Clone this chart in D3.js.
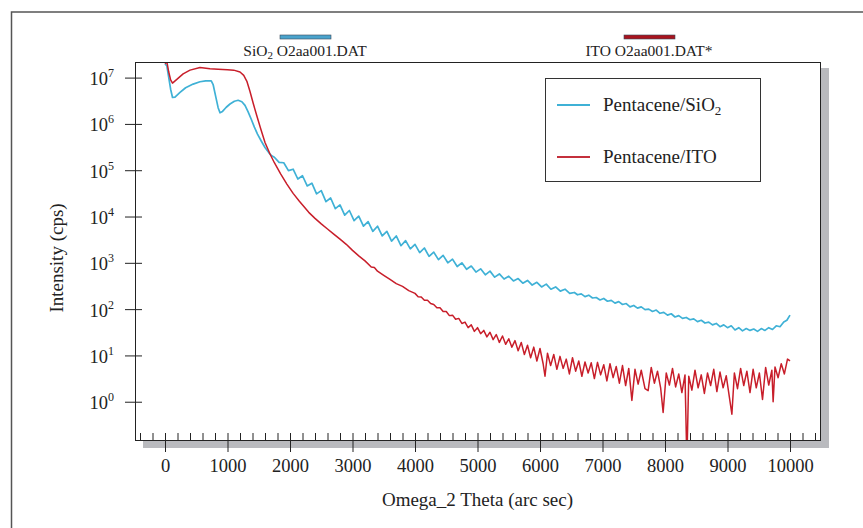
<!DOCTYPE html>
<html><head><meta charset="utf-8">
<script src="https://cdn.jsdelivr.net/npm/d3@7"></script>
<style>
html,body{margin:0;padding:0;background:#fff;}
svg text{font-family:"Liberation Serif","Times New Roman",serif;fill:#222;}
</style></head>
<body><svg id="chart" width="863" height="528"></svg>
<script>
// ---- data ----
const xTickValues = [0,1000,2000,3000,4000,5000,6000,7000,8000,9000,10000];
const yTickExponents = [0,1,2,3,4,5,6,7];
const seriesNames = ["Pentacene/SiO", "Pentacene/ITO"];
const fileLabels = ["O2aa001.DAT", "O2aa001.DAT*"];

const sio2Data = [
[0,2.0e7],[30,1.78e7],[60,1.0e7],[90,5.62e6],[120,3.72e6],[160,3.80e6],[240,4.79e6],[330,6.03e6],
[450,7.24e6],[560,8.13e6],[650,8.51e6],[740,8.51e6],[770,7.08e6],[810,3.98e6],[850,2.24e6],[880,1.74e6],
[920,1.86e6],[980,2.29e6],[1040,2.69e6],[1110,3.09e6],[1170,3.24e6],[1230,3.02e6],[1280,2.51e6],
[1330,1.82e6],[1380,1.26e6],[1430,8.51e5],[1480,6.03e5],[1540,4.27e5],[1600,3.09e5],[1660,2.40e5],
[1700,2.09e5],[1750,1.91e5],[1825,1.48e5],[1900,1.45e5],[1975,9.77e4],[2050,1.05e5],[2125,6.46e4],
[2200,7.59e4],[2275,4.57e4],[2350,5.25e4],[2425,3.09e4],[2500,3.63e4],[2575,2.09e4],[2650,2.51e4],
[2725,1.48e4],[2800,1.78e4],[2875,1.07e4],[2950,1.35e4],[3025,8.13e3],[3100,1.02e4],[3175,6.17e3],
[3250,7.76e3],[3325,4.79e3],[3400,6.17e3],[3475,3.80e3],[3550,4.79e3],[3625,2.95e3],[3700,3.80e3],
[3775,2.34e3],[3850,3.02e3],[3925,2.00e3],[4000,2.51e3],[4075,1.66e3],[4150,2.09e3],[4225,1.38e3],
[4300,1.70e3],[4375,1.17e3],[4450,1.45e3],[4525,1.00e3],[4600,1.20e3],[4675,832],[4750,1000],
[4825,724],[4900,851],[4975,631],[5050,741],[5125,550],[5200,661],[5275,490],[5350,575],[5425,447],
[5500,513],[5575,407],[5650,457],[5725,363],[5800,417],[5875,331],[5950,380],[6025,302],[6100,347],
[6175,269],[6250,302],[6325,245],[6400,269],[6475,219],[6550,229],[6600,204],[6660,214],[6720,186],
[6780,200],[6840,174],[6900,178],[6960,158],[7020,170],[7080,148],[7140,155],[7200,135],[7260,145],
[7320,126],[7380,132],[7440,112],[7500,120],[7560,105],[7620,112],[7680,97.7],[7740,100],[7800,89.1],
[7860,95.5],[7920,81.3],[7980,85.1],[8040,74.1],[8100,79.4],[8160,67.6],[8220,72.4],[8280,63.1],
[8340,66.1],[8400,58.9],[8460,61.7],[8520,53.7],[8580,57.5],[8640,50.1],[8700,52.5],[8760,45.7],
[8820,49.0],[8880,41.7],[8940,45.7],[9000,39.8],[9060,43.7],[9120,35.5],[9180,39.8],[9240,33.9],
[9300,38.0],[9360,34.7],[9420,37.2],[9480,33.1],[9540,38.0],[9600,34.7],[9660,39.8],[9720,36.3],
[9780,43.7],[9840,41.7],[9900,52.5],[9950,57.5],[10000,74.1]
];

const itoData = [
[0,2.0e7],[30,2.19e7],[60,1.32e7],[90,8.91e6],[120,7.59e6],[180,8.91e6],[290,1.20e7],[400,1.45e7],
[560,1.66e7],[720,1.55e7],[850,1.51e7],[1000,1.48e7],[1100,1.45e7],[1200,1.32e7],[1260,1.12e7],
[1310,8.32e6],[1360,5.01e6],[1410,2.82e6],[1470,1.48e6],[1530,7.94e5],[1600,3.98e5],[1680,2.24e5],
[1750,1.45e5],[1850,8.32e4],[1950,5.01e4],[2050,3.16e4],[2150,2.14e4],[2300,1.23e4],[2400,9.12e3],
[2500,6.92e3],[2600,5.37e3],[2700,4.17e3],[2800,3.24e3],[2900,2.51e3],[3000,1.86e3],[3100,1.41e3],
[3200,1.10e3],[3300,813],[3350,794],[3400,661],[3500,537],[3600,437],[3700,355],[3800,309],[3900,251],
[4000,219],[4050,186],[4100,182],[4150,155],[4200,155],[4250,132],[4300,126],[4350,107],[4400,107],
[4450,89.1],[4500,89.1],[4550,72.4],[4600,74.1],[4650,60.3],[4700,63.1],[4750,49.0],[4800,52.5],
[4850,39.8],[4900,45.7],[4950,33.1],[5000,39.8],[5050,29.5],[5100,34.7],[5150,25.1],[5200,31.6],
[5250,21.9],[5300,28.2],[5350,19.1],[5400,26.3],[5450,17.4],[5500,22.9],[5550,15.1],[5600,20.9],
[5650,12.6],[5700,19.1],[5750,10.5],[5800,16.6],[5850,8.91],[5900,15.1],[5950,7.59],[6000,14.1],
[6050,6.61],[6080,3.55],[6120,11.2],[6170,6.03],[6220,10.5],[6270,5.01],[6320,9.55],[6370,5.25],
[6420,8.32],[6470,3.98],[6520,8.91],[6570,4.57],[6620,7.59],[6670,3.55],[6720,7.24],[6770,4.17],
[6820,6.92],[6870,3.16],[6920,7.08],[6970,3.80],[7020,6.31],[7070,2.82],[7120,6.61],[7170,3.31],
[7220,5.75],[7270,2.51],[7320,6.03],[7370,2.24],[7420,5.25],[7470,1.07],[7520,5.01],[7570,2.40],
[7620,4.79],[7680,1.91],[7730,1.74],[7780,5.50],[7830,2.51],[7880,4.57],[7930,2.00],[7970,0.589],
[8020,4.17],[8070,2.29],[8120,5.25],[8170,2.09],[8220,3.98],[8270,1.58],[8320,3.80],[8350,0.05],
[8380,3.55],[8430,1.78],[8480,4.79],[8530,2.00],[8580,3.80],[8630,1.51],[8680,4.17],[8730,2.24],
[8780,5.01],[8830,1.66],[8880,4.37],[8930,2.00],[8980,3.63],[9030,1.26],[9070,0.537],[9110,4.17],
[9160,1.91],[9210,5.25],[9260,2.24],[9310,4.57],[9360,1.58],[9410,5.01],[9460,2.00],[9510,4.17],
[9560,1.12],[9610,5.50],[9660,2.29],[9710,4.79],[9730,1.0],[9760,5.62],[9810,3.31],[9860,6.61],
[9910,3.98],[9960,8.32],[10000,7.59]
];

// ---- layout ----
const svg = d3.select("#chart");
const W = 863, H = 528;
const plot = {left:135, top:62, right:821, bottom:441};
const cyan = "#3fb1d6", red = "#c81e2a";

const x = d3.scaleLinear().domain([-480, 10496]).range([plot.left, plot.right]);
const y = d3.scaleLog().domain([Math.pow(10,-0.848), Math.pow(10,7.337)]).range([plot.bottom, plot.top]);

// outer frame (top and left visible)
svg.append("path").attr("d", `M11.5,${H} L11.5,12 L${W},12`).attr("fill","none").attr("stroke","#555").attr("stroke-width",1.5);

// shadow
svg.append("rect").attr("x", plot.left+8).attr("y", plot.top+6)
  .attr("width", plot.right-plot.left).attr("height", plot.bottom-plot.top+1).attr("fill","#b9babe");
svg.append("rect").attr("x", plot.left).attr("y", plot.top)
  .attr("width", plot.right-plot.left).attr("height", plot.bottom-plot.top).attr("fill","#fff");

// clip
svg.append("clipPath").attr("id","clip").append("rect")
  .attr("x", plot.left).attr("y", plot.top).attr("width", plot.right-plot.left).attr("height", plot.bottom-plot.top);

const line = d3.line().x(d=>x(d[0])).y(d=>y(d[1]));
const g = svg.append("g").attr("clip-path","url(#clip)");
g.append("path").datum(sio2Data).attr("d", line).attr("fill","none").attr("stroke",cyan).attr("stroke-width",1.7).attr("stroke-linejoin","round");
g.append("path").datum(itoData).attr("d", line).attr("fill","none").attr("stroke",red).attr("stroke-width",1.5).attr("stroke-linejoin","round");

// plot border
svg.append("rect").attr("x", plot.left+0.5).attr("y", plot.top+0.5)
  .attr("width", plot.right-plot.left-1).attr("height", plot.bottom-plot.top-1)
  .attr("fill","none").attr("stroke","#222").attr("stroke-width",1);

// x axis: minor ticks (inside, upward)
const minorX = d3.range(-400, 10500, 200).filter(v => v % 1000 !== 0);
const gxMinor = svg.append("g").attr("transform",`translate(0,${plot.bottom})`)
  .call(d3.axisBottom(x).tickValues(minorX).tickSize(-8).tickFormat(""));
gxMinor.select(".domain").remove();
gxMinor.selectAll("line").attr("stroke","#222");

// x axis: major ticks crossing the axis
const gx = svg.append("g").attr("transform",`translate(0,${plot.bottom})`)
  .call(d3.axisBottom(x).tickValues(xTickValues).tickSize(11).tickPadding(20).tickFormat(d3.format("d")));
gx.select(".domain").remove();
gx.selectAll("line").attr("y1",-8).attr("stroke","#222");
gx.selectAll("text").attr("font-size",18.5).attr("fill","#222").attr("dy",0).attr("y",31)
  .style("font-family","'Liberation Serif',serif");

// y axis
const yTicks = yTickExponents.map(e => Math.pow(10,e));
const gy = svg.append("g").attr("transform",`translate(${plot.left},0)`)
  .call(d3.axisLeft(y).tickValues(yTicks).tickSize(10).tickFormat(""));
gy.select(".domain").remove();
gy.selectAll("line").attr("x2",-10).attr("x1",7).attr("stroke","#222");
gy.selectAll(".tick").each(function(d){
  const t = d3.select(this).append("text").attr("x",-21).attr("y",7)
    .attr("text-anchor","end").attr("font-size",18.5).attr("fill","#222");
  t.append("tspan").text("10");
  t.append("tspan").attr("dy",-8).attr("font-size",12).text(String(Math.round(Math.log10(d))));
});

// axis titles
svg.append("text").attr("x", x(5000)).attr("y", 506).attr("text-anchor","middle")
  .attr("font-size",19).text("Omega_2 Theta (arc sec)");
svg.append("text").attr("transform","translate(63,258) rotate(-90)").attr("text-anchor","middle")
  .attr("font-size",19).text("Intensity (cps)");

// top file legend
function fileEntry(cx, color, prefix, sub, label){
  svg.append("rect").attr("x",cx-25).attr("y",35).attr("width",51).attr("height",4)
    .attr("fill",color).attr("stroke","#3a4a5a").attr("stroke-width",0.6);
  const t = svg.append("text").attr("x",cx).attr("y",56).attr("text-anchor","middle").attr("font-size",15.5);
  t.append("tspan").text(prefix);
  if (sub) { t.append("tspan").attr("dy",3).attr("font-size",11).text(sub); t.append("tspan").attr("dy",-3).text(" " + label); }
  else t.append("tspan").text(" " + label);
}
fileEntry(305, "#4aa3cc", "SiO", "2", fileLabels[0]);
fileEntry(649, "#a8141e", "ITO", null, fileLabels[1]);

// inner legend
svg.append("rect").attr("x",545.5).attr("y",78.5).attr("width",215).attr("height",103)
  .attr("fill","#fff").attr("stroke","#333").attr("stroke-width",1);
const legendItems = [{name:seriesNames[0], sub:"2", color:cyan, y:105},{name:seriesNames[1], sub:null, color:"#c4303c", y:157}];
legendItems.forEach(it => {
  svg.append("line").attr("x1",557).attr("x2",590).attr("y1",it.y).attr("y2",it.y)
    .attr("stroke",it.color).attr("stroke-width",2.2);
  const t = svg.append("text").attr("x",603).attr("y",it.y+6).attr("font-size",19);
  t.append("tspan").text(it.name);
  if (it.sub) t.append("tspan").attr("dy",4).attr("font-size",13).text(it.sub);
});
</script></body></html>
